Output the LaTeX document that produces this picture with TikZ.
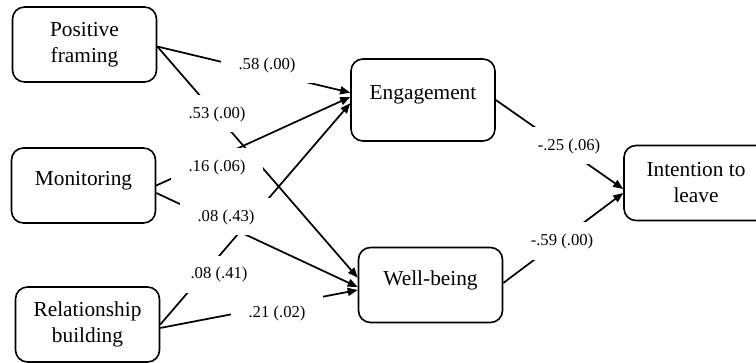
\documentclass[tikz,border=0pt]{standalone}
\usepackage{fontspec}
\setmainfont{Liberation Serif}
\usetikzlibrary{arrows.meta}
\begin{document}
\begin{tikzpicture}[x=0.75pt,y=-0.75pt,
  construct/.style={draw, line width=1.2pt, rounded corners=9pt, minimum width=108pt, minimum height=56.25pt, inner sep=0pt, align=center, font=\fontsize{16}{19.5}\selectfont},
  oneline/.style={text height=10pt, text depth=10pt},
  link/.style={line width=1.3pt, -{Triangle[length=7.5pt,width=6pt]}},
  coef/.style={fill=white, minimum width=69pt, minimum height=27.75pt, inner sep=0pt, font=\fontsize{12.5}{15}\selectfont}]
\useasboundingbox (0,0) rectangle (756,363);
% predictors
\node[construct] (pf) at (84.5,44.5) {Positive\\framing};
\node[construct, oneline] (mon) at (83.5,185.5) {Monitoring};
\node[construct] (rel) at (87.5,324.5) {Relationship\\building};
% mediators
\node[construct, oneline, minimum height=61.5pt] (eng) at (423,100) {Engagement};
\node[construct, oneline] (wb) at (430.5,285) {Well-being};
% outcome
\node[construct] (itl) at (696,183) {Intention to\\leave};
% paths
\draw[link] ([yshift=-1.5pt]pf.east) -- ([yshift=5.5pt]eng.west);
\draw[link] ([yshift=-1.5pt]pf.east) -- ([yshift=5.5pt]wb.west);
\draw[link] (mon.east) -- ([yshift=2.25pt]eng.west);
\draw[link] ([yshift=-5.6pt]mon.east) -- ([yshift=-1.5pt]wb.west);
\draw[link] (rel.east) -- ([yshift=-2.5pt]eng.west);
\draw[link] ([yshift=-2.6pt]rel.east) -- ([yshift=-3.75pt]wb.west);
\draw[link] (eng.east) -- ([yshift=-4.5pt]itl.west);
\draw[link] ([yshift=1.5pt]wb.east) -- ([yshift=-7.5pt]itl.west);
% coefficients
\node[coef] (c1) at (267,65) {.58 (.00)};
\node[coef] (c2) at (217,114) {.53 (.00)};
\node[coef] (c3) at (217,167) {.16 (.06)};
\node[coef] (c4) at (226,217) {.08 (.43)};
\node[coef] (c5) at (219,274) {.08 (.41)};
\node[coef] (c6) at (277,313) {.21 (.02)};
\node[coef] (c7) at (569,146) {-.25 (.06)};
\node[coef] (c8) at (562,241) {-.59 (.00)};
\end{tikzpicture}
\end{document}
